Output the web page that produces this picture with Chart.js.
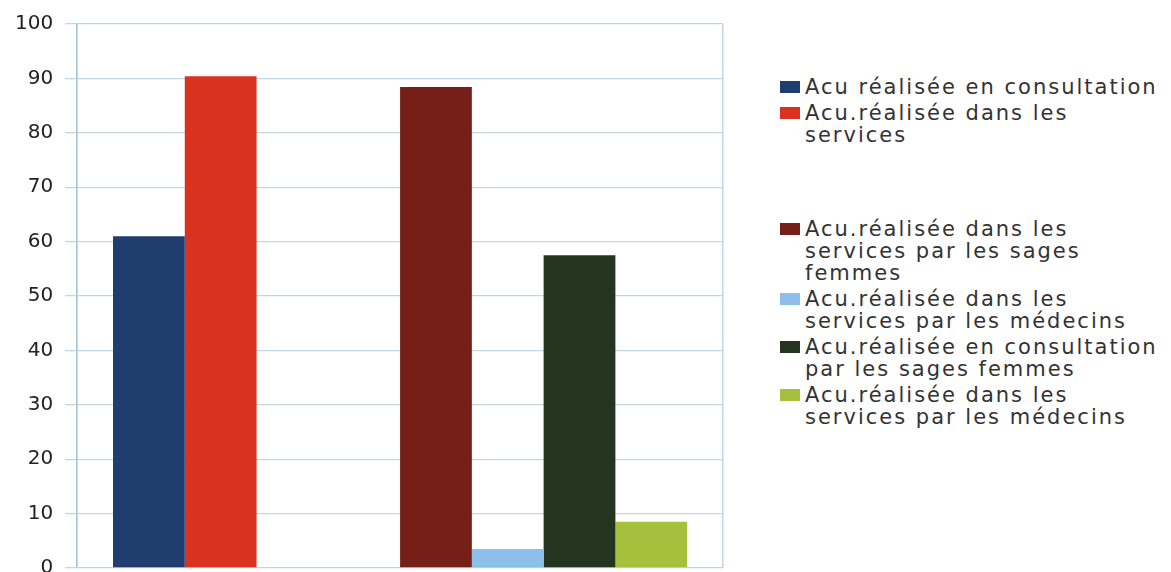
<!DOCTYPE html>
<html>
<head>
<meta charset="utf-8">
<script src="https://cdn.jsdelivr.net/npm/chart.js@4.4.1/dist/chart.umd.min.js"></script>
<style>
  body { margin: 0; background: #fff; }
  #wrap { position: relative; width: 1171px; height: 572px; overflow: hidden; }
  #chartBox { position: absolute; left: 0; top: 0; width: 730px; height: 592px; }
  #legend { position: absolute; left: 780px; top: 76px; font-family: 'DejaVu Sans', sans-serif;
    font-size: 21px; letter-spacing: 2px; color: #333; line-height: 22px; }
  .item { display: flex; align-items: flex-start; margin-bottom: 4px; }
  .box { width: 20px; height: 12px; margin-top: 5px; margin-right: 5px; flex: none; }
  .blank { height: 34px; }
</style>
</head>
<body>
<div id="wrap">
  <div id="chartBox"><canvas id="myChart"></canvas></div>
  <div id="legend"></div>
</div>
<script>
'use strict';

// one category, eight series slots (two are empty in the source sheet)
let categories = [''];
let seriesNames = [
  ['Acu réalisée en consultation'],
  ['Acu.réalisée dans les', 'services'],
  [],
  [],
  ['Acu.réalisée dans les', 'services par les sages', 'femmes'],
  ['Acu.réalisée dans les', 'services par les médecins'],
  ['Acu.réalisée en consultation', 'par  les sages femmes'],
  ['Acu.réalisée dans les', 'services par les médecins']
];
let seriesValues = [61, 90.4, null, null, 88.4, 3.5, 57.5, 8.5];
let seriesColors = ['#1f3d6f', '#d9331f', '#8a8a8a', '#8a8a8a', '#761f18', '#8cc0e8', '#24351f', '#a6bf3c'];
let yMin = 0;
let yMax = 100;
let yStep = 10;

Chart.defaults.font.family = "'DejaVu Sans', sans-serif";
Chart.defaults.color = '#333';

let datasets = [];
for (let i = 0; i < seriesValues.length; i++) {
  datasets.push({
    label: seriesNames[i].join(' '),
    data: [seriesValues[i]],
    backgroundColor: seriesColors[i],
    borderWidth: 0,
    barPercentage: 1,
    categoryPercentage: 0.889
  });
}

let gridColor = '#c3d5e6';

// canvas is a bit taller than the page so the "0" label gets clipped like the scan
let chart = new Chart(document.getElementById('myChart'), {
  type: 'bar',
  data: {
    labels: categories,
    datasets: datasets
  },
  options: {
    responsive: true,
    maintainAspectRatio: false,
    animation: false,
    layout: { padding: { left: 3, right: 7, top: 17, bottom: 0 } },
    plugins: {
      legend: { display: false },
      tooltip: { enabled: false }
    },
    scales: {
      x: {
        ticks: { display: false },
        grid: { display: true, color: gridColor, drawTicks: false, lineWidth: 1.5 },
        border: { display: false }
      },
      y: {
        min: yMin,
        max: yMax,
        ticks: { stepSize: yStep, padding: 12, font: { size: 20 }, color: '#222' },
        grid: { color: gridColor, tickLength: 12, lineWidth: 1.3 },
        border: { display: true, color: '#aac4da', width: 1.5 }
      }
    }
  }
});

// html legend built from the datasets, keeps the multi-line names
let legend = document.getElementById('legend');
for (let i = 0; i < chart.data.datasets.length; i++) {
  let div = document.createElement('div');
  if (seriesNames[i].length === 0) {
    div.className = 'blank';
    legend.appendChild(div);
    continue;
  }
  div.className = 'item';
  let box = document.createElement('span');
  box.className = 'box';
  box.style.background = chart.data.datasets[i].backgroundColor;
  let txt = document.createElement('span');
  txt.innerHTML = seriesNames[i].join('<br>');
  div.appendChild(box);
  div.appendChild(txt);
  legend.appendChild(div);
}
</script>
</body>
</html>
